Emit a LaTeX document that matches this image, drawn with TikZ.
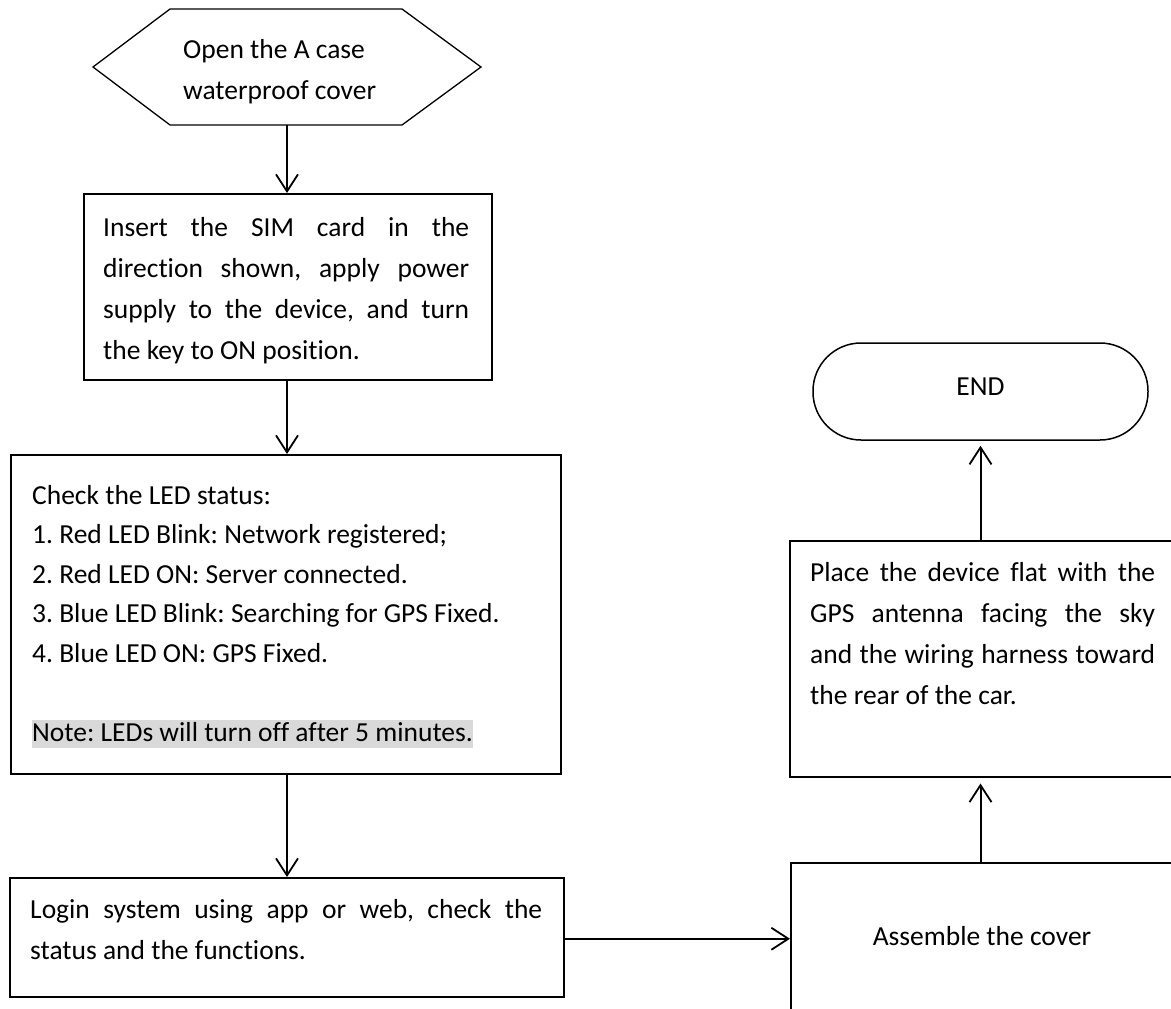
\documentclass[tikz,border=0pt]{standalone}
\usepackage{fontspec}
\setmainfont{Carlito}[Ligatures={NoCommon}]
\frenchspacing
\usetikzlibrary{arrows.meta,calc}
\definecolor{hlgray}{HTML}{D9D9D9}
\newcommand\hlnote[1]{{\setlength{\fboxsep}{0pt}\colorbox{hlgray}{\rule[-7pt]{0pt}{28pt}#1}}}
\begin{document}
\begin{tikzpicture}[x=1pt,y=-1pt,
  shapeline/.style={draw=black, line width=1.5pt},
  boxnode/.style={shapeline, rectangle, inner sep=0pt, anchor=north west},
  txt/.style={inner sep=0pt, anchor=base west, font=\frenchspacing\fontsize{27.5pt}{41pt}\selectfont},
  conn/.style={line width=2pt, -{Straight Barb[length=17pt,width=22pt,line width=1.8pt]}}
]
\useasboundingbox (0,0) rectangle (1171,1009);
\clip (0,0) rectangle (1171,1009);
\fill[white] (0,0) rectangle (1171,1009);

% hexagon start
\draw[line width=1.3pt] (170,9) -- (402,9) -- (481,67) -- (402,125) -- (170,125) -- (93,67) -- cycle;
\coordinate (hexb) at (287,125);
\node[txt, text width=250pt, align=flush left] (hext) at (183,58) {Open the A case\\waterproof cover};

% box 2
\node[boxnode, minimum width=408pt, minimum height=186pt] (b2) at (83,193) {};
\node[txt, text width=366pt, align=justify] (b2t) at (103,236)
  {Insert the SIM card in the\linebreak direction shown, apply power\linebreak supply to the device, and turn\linebreak the key to ON position.};

% box 3
\node[boxnode, minimum width=550pt, minimum height=319pt] (b3) at (10,454) {};
\node[txt, text width=520pt, align=flush left, font=\frenchspacing\fontsize{27.5pt}{39.5pt}\selectfont] (b3t) at (32,504)
  {Check the LED status:\\
   1. Red LED Blink: Network registered;\\
   2. Red LED ON: Server connected.\\
   3. Blue LED Blink: Searching for GPS Fixed.\\
   4. Blue LED ON: GPS Fixed.\\[39.5pt]
   \hlnote{Note: LEDs will turn off after 5 minutes.}};

% box 4
\node[boxnode, minimum width=554pt, minimum height=119pt] (b4) at (9,877) {};
\node[txt, text width=512pt, align=justify] (b4t) at (30,918)
  {Login system using app or web, check the\linebreak status and the functions.};

% box 5
\node[boxnode, minimum width=386pt, minimum height=160pt] (b5) at (790,862) {};
\node[inner sep=0pt, font=\fontsize{27.5pt}{41pt}\selectfont] (b5t) at (982,936) {Assemble the cover};

% box 6
\node[boxnode, minimum width=387pt, minimum height=236pt] (b6) at (789,540) {};
\node[txt, text width=345pt, align=justify] (b6t) at (810,581)
  {Place the device flat with the\linebreak GPS antenna facing the sky\linebreak and the wiring harness toward\linebreak the rear of the car.};

% END terminator
\node[shapeline, rectangle, rounded corners=48pt, minimum width=335pt, minimum height=97pt,
      inner sep=0pt, text height=17.4pt, text depth=9pt,
      font=\fontsize{27.5pt}{41pt}\selectfont] (end) at (980.5,391.5) {END};

% connectors
\draw[conn] (hexb) -- (hexb |- b2.north);
\draw[conn] (hexb |- b2.south) -- (hexb |- b3.north);
\draw[conn] (hexb |- b3.south) -- (hexb |- b4.north);
\draw[conn] ($(b4.east)+(0,1.5)$) -- ($(b4.east -| b5.west)+(0,1.5)$);
\draw[conn, shorten >=6pt] (b5.north -| end) -- (b6.south -| end);
\draw[conn, shorten >=5pt] (b6.north -| end) -- (end.south);
\end{tikzpicture}
\end{document}
